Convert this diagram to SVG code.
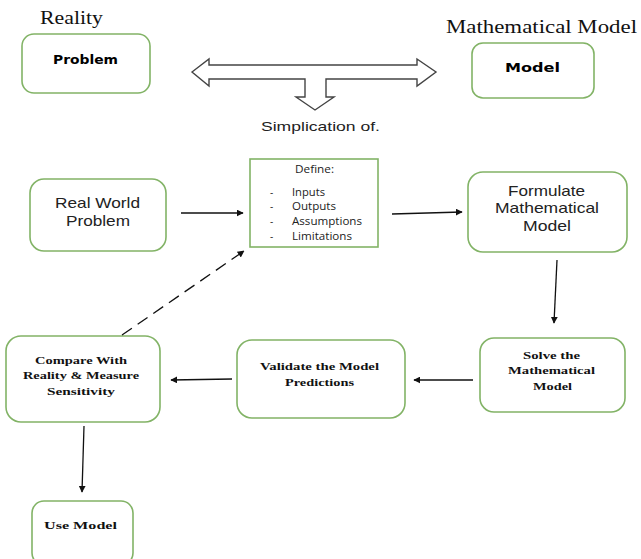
<svg xmlns="http://www.w3.org/2000/svg" width="641" height="559" viewBox="0 0 641 559">
<defs>
<style>
.box{fill:#fff;stroke:#82b366;stroke-width:1.6}
.sans{font-family:"Liberation Sans",Arial,sans-serif;fill:#222}
.serif{font-family:"Liberation Serif","Times New Roman",serif;fill:#111}
.sb{font-family:"Liberation Serif","Times New Roman",serif;fill:#111;font-weight:bold;font-size:11px}
.heavy{font-family:"DejaVu Sans","Liberation Sans",sans-serif;font-weight:bold;fill:#000}
.small{font-family:"Open Sans","Liberation Sans",sans-serif;fill:#222;font-size:10px}
.conn{stroke:#111;stroke-width:1.3;fill:none}
</style>
<marker id="ah" viewBox="0 0 10 10" refX="9" refY="5" markerWidth="7" markerHeight="7" orient="auto" markerUnits="userSpaceOnUse">
<path d="M0,0 L10,5 L0,10 z" fill="#111"/>
</marker>
</defs>
<rect width="641" height="559" fill="#fff"/>
<text class="serif" x="40" y="24" font-size="19" fill="#1a1a1a" textLength="63" lengthAdjust="spacingAndGlyphs">Reality</text>
<text class="serif" x="446" y="33" font-size="19.5" fill="#1a1a1a" textLength="191" lengthAdjust="spacingAndGlyphs">Mathematical Model</text>
<text class="sans" x="261" y="131" font-size="13" fill="#111" textLength="119" lengthAdjust="spacingAndGlyphs">Simplication of.</text>

<g id="problem">
<rect class="box" x="22" y="34" width="128" height="59" rx="12"/>
<text class="heavy" x="53" y="64" font-size="12" textLength="65" lengthAdjust="spacingAndGlyphs">Problem</text>
</g>
<g id="model">
<rect class="box" x="472" y="43" width="122" height="55" rx="11"/>
<text class="heavy" x="505" y="72" font-size="13" textLength="55" lengthAdjust="spacingAndGlyphs">Model</text>
</g>
<g id="realworld">
<rect class="box" x="30" y="179" width="136" height="72" rx="14"/>
<text class="sans" x="55" y="208" font-size="14.5" textLength="85" lengthAdjust="spacingAndGlyphs">Real World</text>
<text class="sans" x="66" y="226" font-size="14.5" textLength="64" lengthAdjust="spacingAndGlyphs">Problem</text>
</g>
<g id="define">
<rect class="box" x="250" y="159" width="128" height="88"/>
<text class="small" x="295" y="173" textLength="39" lengthAdjust="spacingAndGlyphs">Define:</text>
<text class="small" x="270" y="196">-</text><text class="small" x="292" y="196" textLength="33" lengthAdjust="spacingAndGlyphs">Inputs</text>
<text class="small" x="270" y="210">-</text><text class="small" x="292" y="210" textLength="44" lengthAdjust="spacingAndGlyphs">Outputs</text>
<text class="small" x="270" y="225">-</text><text class="small" x="292" y="225" textLength="70" lengthAdjust="spacingAndGlyphs">Assumptions</text>
<text class="small" x="270" y="240">-</text><text class="small" x="292" y="240" textLength="60" lengthAdjust="spacingAndGlyphs">Limitations</text>
</g>
<g id="formulate">
<rect class="box" x="468" y="172" width="159" height="80" rx="15"/>
<text class="sans" x="508" y="196" font-size="14.5" textLength="77" lengthAdjust="spacingAndGlyphs">Formulate</text>
<text class="sans" x="495" y="213" font-size="14.5" textLength="104" lengthAdjust="spacingAndGlyphs">Mathematical</text>
<text class="sans" x="523" y="231" font-size="14.5" textLength="48" lengthAdjust="spacingAndGlyphs">Model</text>
</g>
<g id="solve">
<rect class="box" x="480" y="338" width="145" height="74" rx="14"/>
<text class="sb" x="523" y="359" textLength="57" lengthAdjust="spacingAndGlyphs">Solve the</text>
<text class="sb" x="508" y="374" textLength="87" lengthAdjust="spacingAndGlyphs">Mathematical</text>
<text class="sb" x="533" y="390" textLength="39" lengthAdjust="spacingAndGlyphs">Model</text>
</g>
<g id="validate">
<rect class="box" x="237" y="340" width="168" height="78" rx="15"/>
<text class="sb" x="260" y="370" textLength="119" lengthAdjust="spacingAndGlyphs">Validate the Model</text>
<text class="sb" x="285" y="386" textLength="69" lengthAdjust="spacingAndGlyphs">Predictions</text>
</g>
<g id="compare">
<rect class="box" x="6" y="336" width="154" height="86" rx="15"/>
<text class="sb" x="35" y="364" textLength="92" lengthAdjust="spacingAndGlyphs">Compare With</text>
<text class="sb" x="23" y="379" textLength="116" lengthAdjust="spacingAndGlyphs">Reality &amp; Measure</text>
<text class="sb" x="47" y="395" textLength="68" lengthAdjust="spacingAndGlyphs">Sensitivity</text>
</g>
<g id="usemodel">
<rect class="box" x="32" y="501" width="101" height="64" rx="12"/>
<text class="sb" x="44" y="529" textLength="73" lengthAdjust="spacingAndGlyphs">Use Model</text>
</g>

<g id="connectors">
<path d="M192,72 L209,59 L209,65 L417,65 L417,59 L436,72 L417,86 L417,79 L326,79 L326,97 L334,97 L315,110 L296,97 L305,97 L305,79 L209,79 L209,86 Z" fill="#fff" stroke="#444" stroke-width="1.4" stroke-linejoin="miter"/>
<line class="conn" x1="181" y1="213" x2="243" y2="213" marker-end="url(#ah)"/>
<line class="conn" x1="392" y1="214" x2="462" y2="212" marker-end="url(#ah)"/>
<line class="conn" x1="557" y1="260" x2="554" y2="323" marker-end="url(#ah)"/>
<line class="conn" x1="473" y1="380" x2="414" y2="380" marker-end="url(#ah)"/>
<line class="conn" x1="232" y1="379" x2="171" y2="380" marker-end="url(#ah)"/>
<line class="conn" x1="122" y1="335" x2="244" y2="251" stroke-dasharray="12,7" marker-end="url(#ah)"/>
<line class="conn" x1="84" y1="426" x2="82" y2="492" marker-end="url(#ah)"/>
</g>
</svg>
